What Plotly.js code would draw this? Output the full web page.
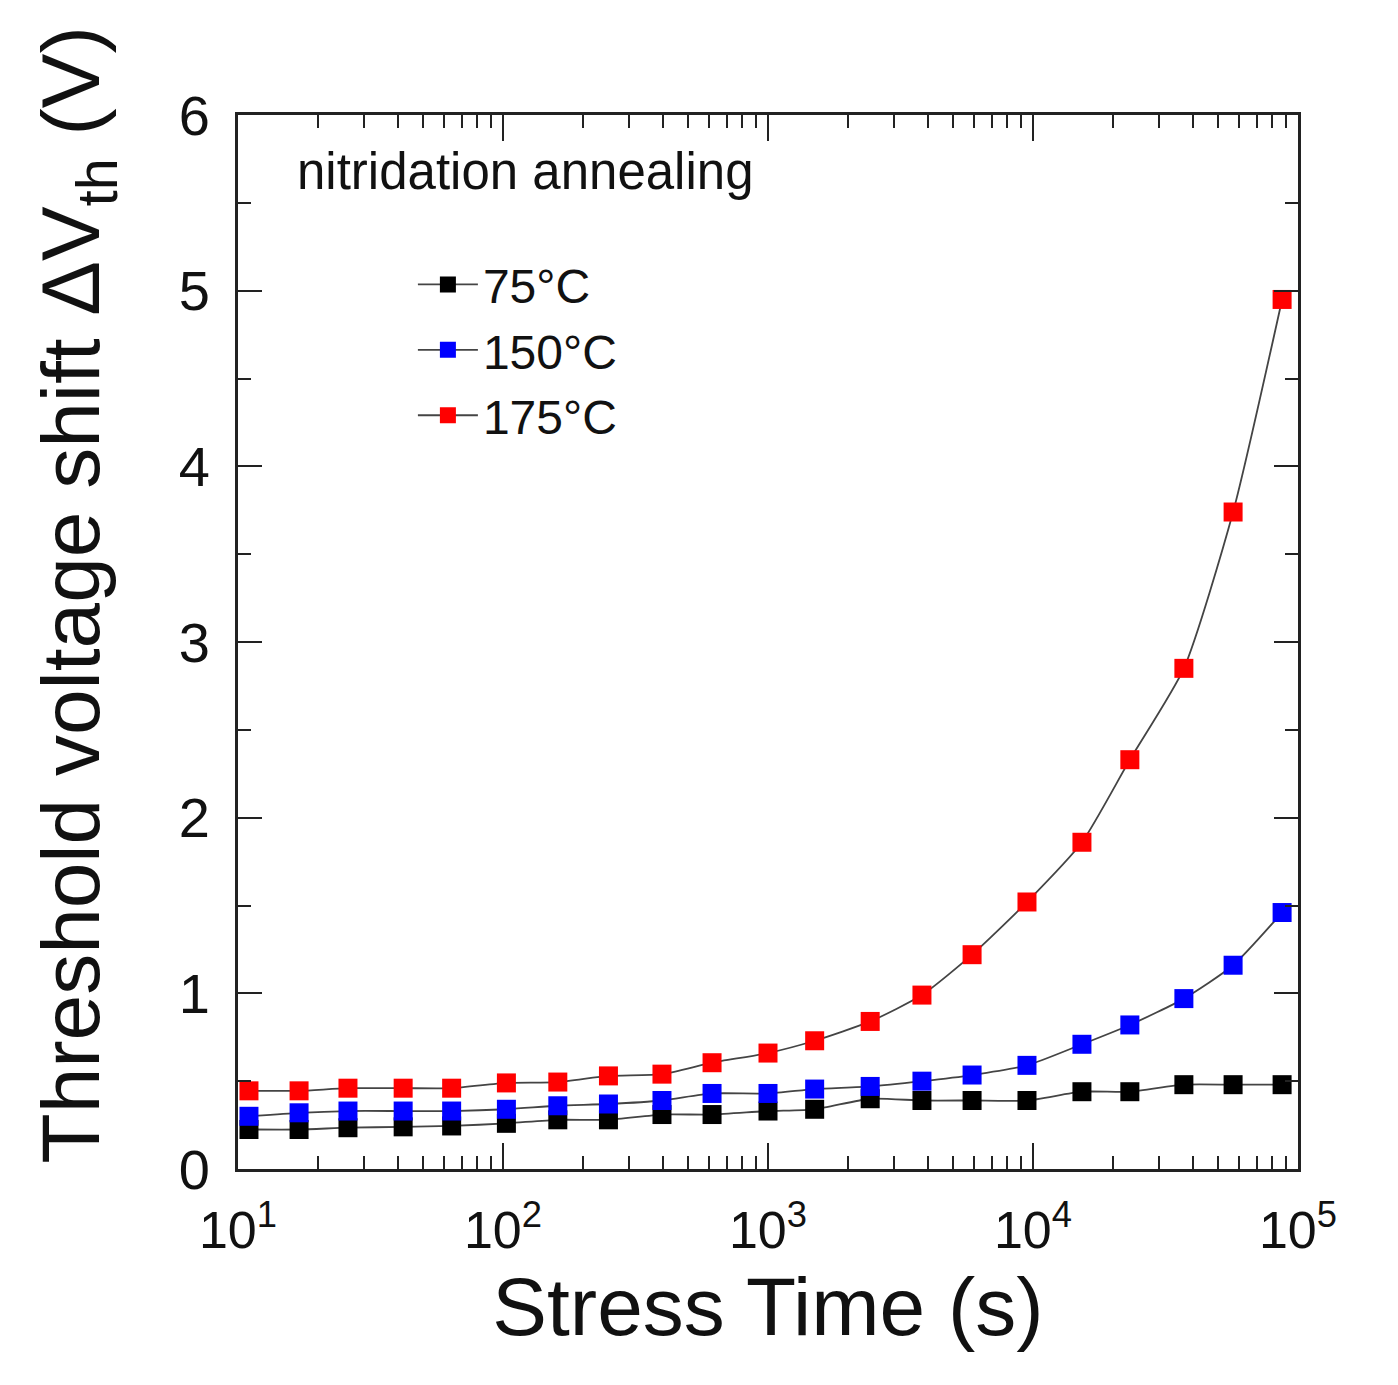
<!DOCTYPE html>
<html>
<head>
<meta charset="utf-8">
<script src="https://cdn.plot.ly/plotly-3.0.1.min.js"></script>
<style>
  html, body { margin: 0; padding: 0; background: #fff; }
  #vthPlot { width: 1398px; height: 1385px; }
</style>
</head>
<body>
<div id="vthPlot"></div>
<script>
// stress time (s)
var stressTime = [11, 17, 26, 42, 64, 103, 161, 250, 398, 615, 1000,
  1500, 2430, 3810, 5890, 9490, 15300, 23200, 37100, 56900, 87100];

// threshold voltage shift (V)
var dVth_75 = [0.225, 0.225, 0.235, 0.24, 0.245, 0.26, 0.28, 0.28, 0.31, 0.31, 0.33,
  0.34, 0.40, 0.39, 0.39, 0.39, 0.44, 0.44, 0.48, 0.48, 0.48];
var dVth_150 = [0.30, 0.32, 0.33, 0.33, 0.33, 0.34, 0.36, 0.37, 0.39, 0.43, 0.43,
  0.455, 0.47, 0.50, 0.535, 0.59, 0.71, 0.82, 0.97, 1.16, 1.46];
var dVth_175 = [0.445, 0.445, 0.46, 0.46, 0.46, 0.49, 0.495, 0.53, 0.54, 0.605, 0.66,
  0.73, 0.84, 0.99, 1.22, 1.52, 1.86, 2.33, 2.85, 3.74, 4.95];

var seriesNames = ["75°C", "150°C", "175°C"];
var seriesColors = ["#000000", "#0000ff", "#ff0000"];

var xTickVals = [10, 100, 1000, 10000, 100000];
var xTickText = ["10<sup>1</sup>", "10<sup>2</sup>", "10<sup>3</sup>", "10<sup>4</sup>", "10<sup>5</sup>"];
var yTickVals = [0, 1, 2, 3, 4, 5, 6];

var cb_vthPlot = function () {
  let ys = [dVth_75, dVth_150, dVth_175];
  let data = ys.map(function (y, i) {
    return {
      x: stressTime,
      y: y,
      name: seriesNames[i],
      type: "scatter",
      mode: "lines+markers",
      line: { color: "#444444", width: 1.8, shape: "spline", smoothing: 0.6 },
      marker: { symbol: "square", size: 19, color: seriesColors[i] },
    };
  });

  let axisFont = { family: "Liberation Sans, Arial, sans-serif", size: 52, color: "#111" };

  let layout = {
    width: 1398,
    height: 1385,
    margin: { l: 238, r: 100, t: 115, b: 216, pad: 0 },
    paper_bgcolor: "#fff",
    plot_bgcolor: "#fff",
    font: { family: "Liberation Sans, Arial, sans-serif", color: "#111" },
    showlegend: true,
    legend: {
      x: 0.165,
      y: 0.875,
      xanchor: "left",
      yanchor: "top",
      bgcolor: "rgba(0,0,0,0)",
      font: { size: 48, color: "#111" },
      tracegroupgap: 0,
      itemwidth: 60,
    },

    xaxis: {
      type: "log",
      range: [1, 5],
      tickmode: "array",
      tickvals: xTickVals,
      ticktext: xTickText,
      ticks: "inside",
      ticklen: 26,
      tickwidth: 2.2,
      tickcolor: "#222",
      showline: true,
      linewidth: 3,
      linecolor: "#222",
      mirror: "ticks",
      showgrid: false,
      zeroline: false,
      tickfont: axisFont,
      ticklabelstandoff: 14,
      minor: { ticks: "inside", ticklen: 13, tickwidth: 2.2, tickcolor: "#222", dtick: "D1", showgrid: false },
      title: { text: "Stress Time (s)", font: { size: 82, color: "#111" }, standoff: 20 },
    },
    yaxis: {
      range: [0, 6],
      tickmode: "array",
      tickvals: yTickVals,
      ticks: "inside",
      ticklen: 24,
      tickwidth: 2.2,
      tickcolor: "#222",
      showline: true,
      linewidth: 3,
      linecolor: "#222",
      mirror: "ticks",
      showgrid: false,
      zeroline: false,
      tickfont: { family: "Liberation Sans, Arial, sans-serif", size: 56, color: "#111" },
      ticklabelstandoff: 14,
      minor: { ticks: "inside", ticklen: 13, tickwidth: 2.2, tickcolor: "#222", dtick: 0.5, showgrid: false },
    },

    annotations: [
      {
        text: "nitridation annealing",
        xref: "paper",
        yref: "paper",
        x: 0.054,
        y: 0.946,
        xanchor: "left",
        yanchor: "middle",
        showarrow: false,
        font: { size: 51, color: "#111" },
      },
      {
        // y axis title, placed by hand to sit where the original has it
        text: "Threshold voltage shift ΔV<sub>th</sub> (V)",
        xref: "paper",
        yref: "paper",
        x: -0.152,
        y: 0.545,
        xanchor: "center",
        yanchor: "middle",
        textangle: -90,
        showarrow: false,
        font: { size: 82, color: "#111" },
      },
    ],
  };
  // end layout

  let config = { responsive: false, displayModeBar: false, displaylogo: false };

  Plotly.newPlot("vthPlot", data, layout, config);
};

if (document.readyState === "complete" || document.readyState === "interactive") {
  cb_vthPlot();
} else {
  document.addEventListener("DOMContentLoaded", cb_vthPlot);
}
</script>
</body>
</html>
